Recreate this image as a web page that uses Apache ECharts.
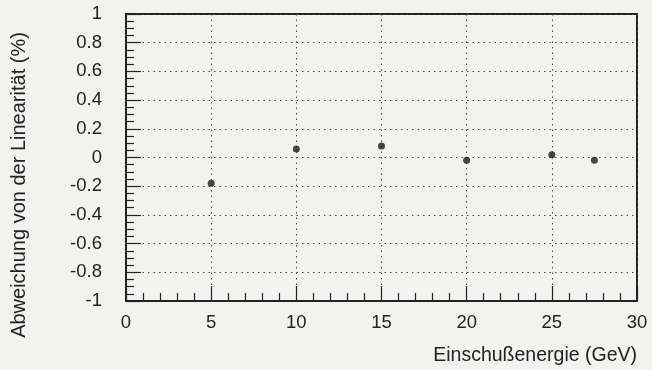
<!DOCTYPE html>
<html>
<head>
<meta charset="utf-8">
<script src="https://cdn.jsdelivr.net/npm/echarts@6/dist/echarts.min.js"></script>
<style>
  html, body { margin: 0; padding: 0; background: #f2f2f0; }
  #chart { width: 652px; height: 370px; }
</style>
</head>
<body>
<div id="chart"></div>
<script>
// Beam energy (GeV) and deviation from linearity (%)
const energies = [5, 10, 15, 20, 25, 27.5];
const deviations = [-0.18, 0.06, 0.08, -0.02, 0.02, -0.02];

const xTitle = 'Einschußenergie (GeV)';
const yTitle = 'Abweichung von der Linearität (%)';

const ink = '#222';
const font = 'Liberation Sans, Arial, Helvetica, sans-serif';

const chart = echarts.init(document.getElementById('chart'), null, { renderer: 'canvas' });

chart.setOption({
  backgroundColor: '#f2f2f0',
  animation: false,
  grid: {
    left: 126, right: 15, top: 14, bottom: 69,
    show: true, borderColor: ink, borderWidth: 2, backgroundColor: 'transparent'
  },
  xAxis: {
    type: 'value',
    min: 0, max: 30, interval: 5,
    name: xTitle,
    nameLocation: 'end',
    nameGap: 0,
    nameTextStyle: {
      fontFamily: font, fontSize: 19.5, color: ink,
      align: 'right', verticalAlign: 'top', padding: [45, 0, 0, 0]
    },
    axisLine: { show: true, onZero: false, lineStyle: { color: ink, width: 2 } },
    axisTick: { show: true, inside: true, length: 15, lineStyle: { color: ink, width: 1.2 } },
    minorTick: { show: true, splitNumber: 5, length: 8, lineStyle: { color: ink, width: 1.2 } },
    axisLabel: { fontFamily: font, fontSize: 18.5, color: ink, margin: 12 },
    splitLine: { show: true, lineStyle: { color: '#444', width: 1, type: [1.5, 4] } }
  },
  yAxis: {
    type: 'value',
    min: -1, max: 1, interval: 0.2,
    axisLine: { show: true, onZero: false, lineStyle: { color: ink, width: 2 } },
    axisTick: { show: true, inside: true, length: 15, lineStyle: { color: ink, width: 1.2 } },
    minorTick: { show: true, splitNumber: 4, length: 8, lineStyle: { color: ink, width: 1.2 } },
    axisLabel: {
      fontFamily: font, fontSize: 18.5, color: ink, margin: 24,
      formatter: v => String(Math.round(v * 10) / 10)
    },
    splitLine: { show: true, lineStyle: { color: '#444', width: 1, type: [1.5, 4] } }
  },
  graphic: [{
    type: 'text',
    x: 19, y: 185,
    rotation: Math.PI / 2,
    style: {
      text: yTitle, fontFamily: font, fontSize: 20, fill: ink,
      align: 'center', verticalAlign: 'middle'
    }
  }],
  series: [{
    type: 'scatter',
    data: energies.map((e, i) => [e, deviations[i]]),
    symbol: 'circle',
    symbolSize: 7,
    itemStyle: { color: '#1a1a1a' }
  }]
});
</script>
</body>
</html>
